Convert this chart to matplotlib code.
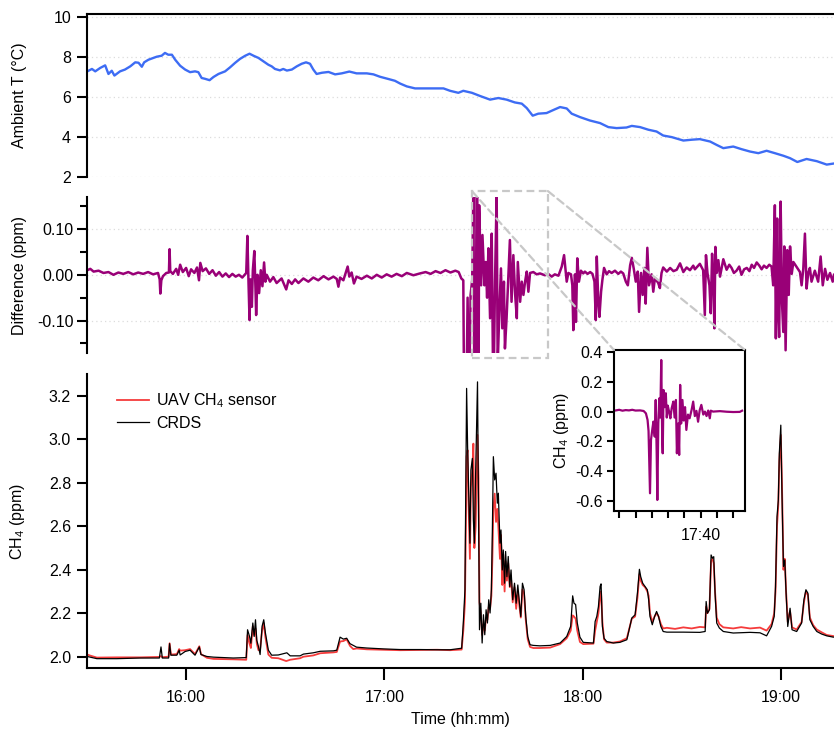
# ================================================    Modules import     =====================================================

import matplotlib
matplotlib.use("Agg")
import matplotlib.pyplot as plt
from matplotlib.patches import Rectangle, ConnectionPatch
from matplotlib.ticker import FuncFormatter, FormatStrFormatter, FixedLocator

# ================================================          Data          ================================================
# time is in minutes after 15:00

# Ambient temperature (deg C)
temp_t = [30.1, 31.5, 32.5, 34.0, 35.5, 36.5, 37.5, 38.3, 40.0, 41.5, 43.1, 44.6, 45.6, 46.6, 47.3, 48.6,
          50.1, 51.1, 52.6, 53.6, 54.6, 55.7, 56.7, 58.2, 59.7, 61.2, 62.7, 63.7, 64.7, 65.7, 67.1, 68.3,
          69.8, 71.8, 73.3, 74.8, 76.3, 77.9, 79.2, 80.4, 81.9, 83.4, 84.9, 85.9, 86.9, 88.4, 89.4, 90.5,
          92.0, 93.5, 95.0, 96.3, 97.5, 98.5, 99.5, 101.1, 103.1, 105.1, 107.1, 109.4, 111.6, 114.7, 116.7,
          118.7, 121.2, 123.2, 124.8, 126.8, 129.3, 132.8, 135.4, 137.9, 139.9, 142.4, 143.9, 146.5, 149.0,
          152.0, 154.5, 157.0, 159.5, 161.6, 163.1, 164.9, 166.6, 169.1, 171.4, 173.2, 175.2, 176.7, 179.2,
          182.2, 185.3, 187.8, 190.3, 193.3, 194.9, 197.4, 199.9, 202.4, 204.4, 207.0, 210.5, 213.0, 215.5,
          218.6, 220.6, 222.6, 225.6, 228.1, 230.7, 233.2, 235.7, 238.2, 240.8, 242.8, 245.0, 247.8, 250.9,
          253.9, 255.9]
temp_v = [7.27, 7.39, 7.27, 7.44, 7.57, 7.14, 7.30, 7.06, 7.27, 7.36, 7.52, 7.72, 7.70, 7.50, 7.72, 7.85,
          7.94, 8.00, 8.05, 8.19, 8.10, 8.10, 7.85, 7.55, 7.36, 7.23, 7.27, 7.23, 6.94, 6.90, 6.83, 6.99,
          7.14, 7.27, 7.47, 7.69, 7.89, 8.05, 8.15, 8.05, 7.94, 7.77, 7.60, 7.52, 7.39, 7.32, 7.39, 7.31,
          7.36, 7.52, 7.65, 7.72, 7.65, 7.36, 7.14, 7.20, 7.24, 7.12, 7.17, 7.26, 7.17, 7.17, 7.12,
          7.00, 6.89, 6.80, 6.66, 6.52, 6.42, 6.42, 6.42, 6.42, 6.30, 6.20, 6.30, 6.20, 6.04,
          5.86, 5.94, 5.86, 5.72, 5.66, 5.44, 5.06, 5.16, 5.19, 5.36, 5.49, 5.42, 5.16, 4.99,
          4.82, 4.69, 4.49, 4.44, 4.47, 4.55, 4.49, 4.36, 4.27, 4.07, 3.99, 3.82, 3.86, 3.89,
          3.77, 3.60, 3.44, 3.52, 3.39, 3.27, 3.19, 3.31, 3.19, 3.06, 2.94, 2.75, 2.90, 2.79,
          2.62, 2.67]

# Difference UAV - CRDS (ppm)
diff_t = [30.1, 31.0, 32.0, 33.5, 35.0, 36.5, 38.0, 39.5, 41.0, 42.5, 44.0, 45.5, 47.0, 48.5, 50.0, 51.5,
          52.0, 52.2, 52.5, 53.0, 54.0, 54.8, 55.0, 55.2, 56.0, 57.0, 57.6, 58.2, 59.0, 60.0, 60.8, 61.5,
          62.5, 63.3, 63.9, 64.3, 65.0, 66.0, 67.0, 68.0, 69.0, 70.0, 71.0, 72.0, 73.0, 74.0, 75.0, 76.0,
          77.0, 78.2, 78.55, 78.9, 79.2, 79.5, 79.9, 80.2, 80.65, 81.0, 81.2, 81.6, 82.1, 82.6, 83.1, 83.6,
          84.0, 84.4, 85.4, 86.4, 87.4, 88.9, 90.3, 91.0, 92.0, 93.0, 94.0, 95.5, 97.0, 98.5, 100.0, 101.6,
          103.1, 104.6, 105.6, 106.1, 106.6, 107.6, 108.9, 109.4, 110.1, 110.8, 111.6, 113.1, 114.7, 116.2,
          117.7, 119.2, 120.7, 122.2, 123.7, 125.3, 126.8, 128.8, 130.8, 132.5, 134.0, 135.5, 137.0, 138.5,
          140.0, 141.5, 142.5, 143.3, 143.9, 144.4, 145.2, 145.6, 146.1, 146.6, 146.95, 147.45, 148.0, 148.5,
          148.7, 149.3, 149.7, 150.3, 150.7, 151.1, 151.5, 152.0, 152.5, 153.0, 153.5, 154.0, 154.3, 154.8,
          155.3, 155.7, 156.2, 156.5, 157.0, 157.5, 158.0, 158.5, 159.05, 159.6, 160.1, 160.4, 161.1, 161.6,
          162.1, 162.6, 163.1, 163.6, 164.1, 165.1, 166.1, 167.1, 168.6, 169.6, 170.65, 171.6, 172.7, 173.7,
          174.4, 175.2, 175.7, 176.5, 176.9, 177.2, 177.7, 178.0, 178.4, 178.9, 179.5, 180.2, 180.7, 181.5,
          182.3, 183.0, 183.6, 184.0, 184.3, 184.8, 185.1, 185.6, 186.0, 186.5, 187.3, 188.0, 188.8, 189.8,
          190.8, 191.6, 192.3, 193.1, 193.7, 194.4, 194.9, 195.5, 196.1, 196.7, 197.1, 197.7, 198.2, 198.7,
          199.1, 199.6, 200.1, 200.9, 201.4, 201.9, 202.9, 203.4, 203.9, 204.4, 205.5, 206.5, 207.5, 208.5,
          209.5, 210.5, 211.5, 212.5, 213.5, 214.0, 215.5, 216.5, 217.0, 217.35, 217.8, 218.4, 218.8, 219.2,
          219.6, 219.9, 220.2, 220.6, 221.1, 221.6, 222.6, 223.6, 224.4, 225.1, 225.8, 226.6, 227.4, 228.1,
          228.9, 229.7, 230.5, 231.2, 231.9, 232.7, 233.5, 234.2, 234.9, 235.7, 236.5, 237.2, 237.7, 238.2,
          238.5, 238.9, 239.2, 239.5, 239.95, 240.35, 240.75, 241.05, 241.45, 241.96, 242.4, 242.8, 243.3, 243.8,
          244.8, 245.8, 246.3, 246.8, 247.3, 247.8, 248.3, 248.8, 249.3, 250.3, 251.3, 252.05, 252.7, 253.4,
          254.1, 254.9, 255.7, 256.1]
diff_v = [0.010, 0.013, 0.007, 0.009, 0.004, 0.006, 0.000, 0.005, 0.002, 0.006, 0.001, 0.005, 0.002, 0.006, 0.001, 0.004,
          -0.010, -0.041, -0.012, -0.003, 0.004, 0.005, 0.056, 0.008, 0.002, 0.013, 0.000, 0.022, 0.006, 0.015, -0.003, 0.012,
          0.004, 0.016, -0.012, 0.026, 0.008, 0.014, 0.002, 0.010, -0.002, 0.006, -0.004, 0.003, -0.005, 0.002, -0.004, 0.000,
          -0.006, 0.004, 0.085, -0.020, -0.099, -0.010, -0.070, 0.010, 0.052, -0.030, -0.088, 0.000, -0.040, 0.010, -0.025, 0.027,
          -0.015, 0.000, -0.015, -0.005, -0.018, -0.008, -0.032, -0.012, -0.020, -0.010, -0.018, -0.008, -0.015, -0.006, -0.012, -0.003,
          -0.010, -0.004, -0.009, -0.026, -0.006, -0.012, 0.018, -0.004, 0.005, -0.019, -0.004, -0.009, -0.002, -0.008,
          0.000, -0.006, 0.001, -0.004, 0.002, -0.003, 0.004, -0.001, 0.003, 0.006, 0.002, 0.008, 0.004, 0.010,
          0.005, 0.009, 0.006, -0.008, -0.012, -0.550, -0.050, -0.300, -0.044, -0.011, 0.200, -0.590, 0.350, -0.280,
          0.152, -0.023, 0.087, -0.023, 0.028, -0.050, 0.058, -0.095, 0.090, -0.290, -0.015, 0.180, -0.200, -0.081,
          0.014, -0.117, -0.015, -0.161, -0.095, -0.011, 0.076, -0.059, 0.043, -0.044, -0.095, 0.028, -0.059, -0.015,
          -0.044, -0.015, 0.007, -0.037, 0.004, 0.006, 0.001, 0.003, -0.001, 0.002, -0.004, 0.001, -0.002, 0.018,
          0.043, -0.015, 0.004, 0.001, -0.023, -0.121, 0.001, -0.103, 0.036, -0.015, 0.009, 0.003, 0.007, 0.002,
          0.006, 0.002, -0.015, -0.099, 0.040, -0.066, -0.092, -0.037, -0.011, 0.015, 0.001, 0.008, 0.004, 0.009,
          0.002, 0.007, 0.003, -0.015, -0.023, 0.021, 0.037, 0.013, -0.015, 0.007, -0.081, 0.004, -0.044, 0.015,
          -0.063, 0.059, -0.023, 0.001, -0.037, -0.007, -0.018, -0.029, 0.004, 0.016, 0.007, 0.015, 0.008, 0.011,
          0.025, 0.006, 0.016, 0.010, 0.020, 0.012, 0.024, 0.010, -0.088, 0.043, 0.004, -0.023, -0.084, 0.046,
          -0.015, -0.117, 0.061, 0.004, 0.032, -0.004, 0.034, 0.011, 0.022, 0.015, 0.004, 0.009, 0.018, 0.000,
          0.012, 0.015, 0.008, 0.022, 0.015, 0.027, 0.020, 0.012, 0.020, 0.015, 0.022, 0.018, -0.023, 0.152,
          -0.139, 0.123, -0.080, -0.136, 0.160, -0.059, -0.125, 0.062, -0.165, 0.054, -0.044, 0.062, 0.002, 0.028,
          0.017, 0.006, -0.023, 0.013, 0.090, -0.030, 0.004, 0.015, -0.015, 0.009, -0.015, 0.040, -0.023, 0.013,
          -0.011, 0.004, -0.015, 0.000]

# CRDS CH4 (ppm)
crds_t = [30.1, 33.0, 39.0, 46.1, 51.9, 52.4, 52.8, 54.7, 55.0, 55.4, 57.2, 57.9, 58.2, 59.7, 61.2, 62.7,
          64.0, 64.5, 66.3, 68.3, 74.3, 78.2, 78.6, 79.2, 79.6, 80.2, 80.6, 81.0, 81.4, 81.9, 82.4, 83.0,
          83.5, 84.0, 84.9, 85.9, 87.9, 90.5, 91.5, 94.5, 95.5, 98.5, 100.6, 104.6, 105.6, 106.6, 107.6, 108.6,
          109.6, 110.6, 111.6, 114.7, 119.7, 124.8, 130.8, 136.0, 139.9, 143.4, 143.9, 144.4, 144.7, 144.9,
          145.2, 145.5, 145.9, 146.2, 146.65, 146.95, 147.25, 147.65, 148.2, 148.5, 148.8, 149.2, 149.6, 150.0,
          150.4, 150.8, 151.2, 151.6, 152.0, 152.4, 152.7, 153.0, 153.4, 153.8, 154.2, 154.5, 155.0, 155.3,
          155.7, 156.0, 156.4, 156.7, 157.1, 157.5, 157.95, 158.35, 158.85, 159.4, 159.9, 160.4, 160.9, 161.3,
          161.8, 162.3, 162.8, 163.4, 164.1, 165.1, 167.1, 170.2, 173.2, 175.2, 176.4, 177.0, 177.4, 177.9,
          178.4, 179.2, 180.2, 183.3, 183.8, 184.3, 184.8, 185.3, 185.6, 186.0, 186.5, 187.3, 189.3, 191.3,
          193.4, 194.9, 195.9, 196.6, 197.2, 197.6, 198.2, 198.9, 199.6, 200.0, 200.4, 201.1, 201.8, 202.4,
          203.0, 203.7, 204.4, 205.5, 210.5, 215.5, 217.1, 217.4, 217.8, 218.4, 218.9, 219.3, 219.7, 220.1,
          220.6, 221.4, 222.6, 225.6, 230.7, 233.7, 235.7, 237.2, 238.0, 238.4, 238.85, 239.25, 239.55, 240.0,
          240.35, 240.8, 241.2, 241.6, 242.1, 242.8, 243.4, 244.8, 246.3, 247.0, 247.6, 248.2, 248.8, 249.8,
          250.9, 252.4, 253.9, 255.9]
crds_v = [2.001, 1.991, 1.991, 1.994, 1.994, 2.045, 1.994, 1.994, 2.060, 2.007, 2.007, 2.030, 2.008, 2.024, 2.030, 2.007,
          2.045, 2.010, 2.001, 1.998, 1.994, 1.996, 2.124, 2.093, 2.062, 2.155, 2.093, 2.170, 2.075, 2.047, 2.010, 2.140,
          2.170, 2.110, 2.030, 2.007, 2.008, 2.018, 2.004, 2.004, 2.012, 2.018, 2.025, 2.027, 2.030, 2.090, 2.081, 2.085,
          2.060, 2.052, 2.044, 2.040, 2.036, 2.033, 2.033, 2.032, 2.032, 2.039, 2.155, 2.308, 2.859, 3.234,
          2.966, 2.782, 2.522, 2.859, 2.912, 2.629, 2.522, 2.859, 3.264, 2.706, 2.124, 2.246, 2.063, 2.193,
          2.101, 2.216, 2.155, 2.262, 2.201, 2.308, 2.583, 2.920, 2.813, 2.844, 2.706, 2.752, 2.522, 2.583,
          2.399, 2.491, 2.338, 2.484, 2.368, 2.461, 2.323, 2.399, 2.262, 2.338, 2.246, 2.330, 2.246, 2.185,
          2.338, 2.308, 2.185, 2.093, 2.055, 2.052, 2.050, 2.052, 2.063, 2.093, 2.140, 2.280, 2.246, 2.240,
          2.155, 2.090, 2.066, 2.063, 2.162, 2.185, 2.231, 2.323, 2.335, 2.139, 2.085, 2.070, 2.063, 2.066,
          2.078, 2.178, 2.193, 2.292, 2.402, 2.368, 2.338, 2.323, 2.308, 2.262, 2.185, 2.147, 2.185, 2.208,
          2.185, 2.139, 2.116, 2.113, 2.113, 2.112, 2.116, 2.254, 2.200, 2.216, 2.468, 2.453, 2.460, 2.292,
          2.155, 2.132, 2.116, 2.109, 2.112, 2.110, 2.096, 2.139, 2.185, 2.323, 2.644, 2.721, 2.935, 3.065,
          2.752, 2.415, 2.445, 2.292, 2.139, 2.223, 2.124, 2.116, 2.155, 2.262, 2.308, 2.292, 2.170, 2.139,
          2.116, 2.104, 2.096, 2.090]

# UAV CH4 sensor (ppm)
uav_t = [30.1, 31.0, 33.0, 39.0, 46.1, 51.9, 52.4, 52.8, 54.7, 55.0, 55.4, 57.2, 57.9, 58.2, 59.7, 61.2,
         62.7, 64.0, 64.5, 66.3, 68.3, 74.3, 78.2, 78.6, 79.2, 79.6, 80.2, 80.6, 81.0, 81.4, 81.9, 82.4,
         83.0, 83.5, 84.0, 84.9, 85.9, 87.9, 90.3, 91.5, 94.5, 95.5, 98.5, 100.6, 104.6, 105.6, 106.6, 107.6,
         108.6, 109.6, 110.6, 111.6, 114.7, 119.7, 124.8, 130.8, 136.0, 139.9, 143.4, 143.9, 144.4, 144.7,
         144.9, 145.2, 145.5, 145.9, 146.2, 146.65, 146.95, 147.25, 147.65, 148.2, 148.5, 148.8, 149.2, 149.6,
         150.0, 150.4, 150.8, 151.2, 151.6, 152.0, 152.4, 152.7, 153.0, 153.4, 153.8, 154.2, 154.5, 155.0,
         155.3, 155.7, 156.0, 156.4, 156.7, 157.1, 157.5, 157.95, 158.35, 158.85, 159.4, 159.9, 160.4, 160.9,
         161.3, 161.8, 162.3, 162.8, 163.4, 164.1, 165.1, 167.1, 170.2, 173.2, 175.2, 176.4, 177.0, 177.4,
         177.9, 178.4, 179.2, 180.2, 183.3, 183.8, 184.3, 184.8, 185.3, 185.6, 186.0, 186.5, 187.3, 189.3,
         191.3, 193.4, 194.9, 195.9, 196.6, 197.2, 197.6, 198.2, 198.9, 199.6, 200.0, 200.4, 201.1, 201.8,
         202.4, 203.0, 203.7, 204.4, 205.5, 208.0, 210.5, 213.0, 215.5, 217.1, 217.4, 217.8, 218.4, 218.9,
         219.3, 219.7, 220.1, 220.6, 221.4, 222.6, 225.6, 228.0, 230.7, 233.7, 235.7, 237.2, 238.0, 238.4,
         238.85, 239.25, 239.55, 240.0, 240.35, 240.8, 241.2, 241.6, 242.1, 242.8, 243.4, 244.8, 246.3, 247.0,
         247.6, 248.2, 248.8, 249.8, 250.9, 252.4, 253.9, 255.9]
uav_v = [2.010, 2.005, 1.996, 1.997, 1.997, 1.999, 2.003, 1.998, 2.000, 2.062, 2.010, 2.012, 2.035, 2.028, 2.030, 2.035,
         2.012, 2.048, 2.012, 1.995, 1.990, 1.988, 1.986, 2.100, 2.060, 2.040, 2.140, 2.100, 2.130, 2.060, 2.030, 2.035,
         2.120, 2.155, 2.090, 2.010, 1.995, 1.993, 1.980, 1.986, 1.993, 2.000, 2.006, 2.016, 2.020, 2.022, 2.070, 2.072,
         2.080, 2.050, 2.035, 2.038, 2.034, 2.032, 2.030, 2.031, 2.032, 2.030, 2.033, 2.120, 2.250, 2.620,
         2.920, 2.950, 2.700, 2.450, 2.780, 2.860, 2.980, 2.500, 2.600, 3.020, 2.820, 2.250, 2.200, 2.100,
         2.150, 2.120, 2.180, 2.170, 2.230, 2.220, 2.280, 2.450, 2.680, 2.750, 2.620, 2.680, 2.600, 2.450,
         2.560, 2.330, 2.470, 2.300, 2.440, 2.350, 2.430, 2.320, 2.360, 2.250, 2.320, 2.220, 2.300, 2.230,
         2.180, 2.310, 2.290, 2.170, 2.080, 2.045, 2.040, 2.040, 2.042, 2.058, 2.085, 2.120, 2.190, 2.185,
         2.175, 2.120, 2.068, 2.058, 2.060, 2.120, 2.160, 2.200, 2.280, 2.300, 2.160, 2.080, 2.065, 2.065,
         2.070, 2.085, 2.175, 2.185, 2.270, 2.380, 2.350, 2.330, 2.320, 2.300, 2.280, 2.200, 2.160, 2.185,
         2.200, 2.185, 2.150, 2.130, 2.133, 2.128, 2.135, 2.130, 2.137, 2.135, 2.230, 2.200, 2.220, 2.440,
         2.450, 2.430, 2.300, 2.180, 2.150, 2.135, 2.130, 2.136, 2.130, 2.134, 2.120, 2.150, 2.200, 2.300,
         2.600, 2.700, 2.900, 3.020, 2.800, 2.400, 2.450, 2.300, 2.160, 2.210, 2.135, 2.125, 2.160, 2.250,
         2.300, 2.285, 2.180, 2.145, 2.125, 2.112, 2.100, 2.095]

# Inset: difference around the 17:30 plume (ppm)
inset_t = [134.0, 135.0, 136.0, 137.0, 138.0, 139.0, 140.0, 141.4, 142.5, 143.2, 143.7, 144.0, 144.45, 144.75,
           145.2, 145.5, 145.9, 146.2, 146.5, 146.7, 147.0, 147.3, 147.6, 147.9, 148.2, 148.35, 148.6, 148.95,
           149.3, 149.6, 149.9, 150.3, 150.7, 151.1, 151.6, 152.0, 152.4, 152.7, 153.1, 153.4, 153.7, 154.0,
           154.4, 154.8, 155.2, 155.6, 156.1, 156.6, 157.2, 157.7, 158.2, 158.7, 159.2, 159.7, 160.2, 160.8,
           161.3, 161.8, 162.3, 162.8, 163.1, 163.8, 165.9, 168.0, 170.0, 172.0, 172.7]
inset_v = [0.008, 0.012, 0.006, 0.010, 0.008, 0.012, 0.007, 0.008, 0.004, -0.012, -0.056, -0.130, -0.548, -0.190,
           -0.112, -0.067, -0.168, 0.078, -0.280, -0.593, -0.078, 0.089, -0.040, 0.346, -0.190, -0.280, 0.145, 0.030,
           0.123, -0.040, 0.040, 0.000, -0.045, 0.023, 0.067, -0.040, 0.078, -0.280, -0.080, -0.291, 0.179, -0.080,
           0.078, -0.060, 0.030, -0.123, -0.020, -0.045, 0.010, 0.067, -0.030, 0.005, -0.068, 0.010, 0.045, -0.020,
           0.000, -0.030, 0.007, -0.045, 0.006, 0.000, 0.003, -0.001, -0.003, -0.002, 0.006]

# zoom box drawn on the difference panel (minutes, ppm)
box_t = [146.5, 169.5]
box_v = [-0.182, 0.183]

# ================================================          Style          ================================================

plt.rcParams['font.family'] = ['Liberation Sans', 'DejaVu Sans']
plt.rcParams['mathtext.fontset'] = 'custom'
plt.rcParams['mathtext.rm'] = 'Liberation Sans'
plt.rcParams['mathtext.it'] = 'Liberation Sans:italic'
plt.rcParams['axes.unicode_minus'] = False
plt.rcParams['font.size'] = 11

c_temp = '#3d6cf4'
c_diff = '#990077'
c_uav = '#f53b3b'
c_crds = 'black'
c_grey = '#c8c8c8'
c_grid = '#dcdcdc'

XMIN, XMAX = 30, 256.1
LABEL_X = -0.08


def hhmm(v, pos=None):
    v = int(round(v))
    return "%d:%02d" % (15 + v // 60, v % 60)


def style_axis(ax, spines):
    for s in ['left', 'right', 'top', 'bottom']:
        ax.spines[s].set_visible(s in spines)
        ax.spines[s].set_linewidth(1.5)
    ax.tick_params(axis='both', which='major', direction='out', width=1.5, length=7.5, labelsize=11.5)
    ax.tick_params(axis='y', which='major', pad=4)
    ax.tick_params(axis='both', which='minor', direction='out', width=1.5, length=5)


# ================================================          Figure          ================================================

fig = plt.figure(figsize=(8.34, 7.30), dpi=100)
ax_t = fig.add_axes([0.1043, 0.7575, 0.8957, 0.2233])
ax_d = fig.add_axes([0.1043, 0.5164, 0.8957, 0.2137])
ax_c = fig.add_axes([0.1043, 0.0849, 0.8957, 0.4027])
ax_in = fig.add_axes([0.7362, 0.3000, 0.1571, 0.2205])

# ----- Ambient temperature
ax_t.plot(temp_t, temp_v, color=c_temp, lw=1.7)
style_axis(ax_t, ['left', 'top'])
ax_t.set_xlim(XMIN, XMAX)
ax_t.set_ylim(2, 10.13)
ax_t.set_yticks([2, 4, 6, 8, 10])
ax_t.tick_params(axis='x', bottom=False, labelbottom=False)
ax_t.grid(axis='y', color=c_grid, ls=(0, (1, 2.5)), lw=0.9)
ax_t.set_axisbelow(True)
ax_t.set_ylabel("Ambient T (°C)", fontsize=11.5)
ax_t.yaxis.set_label_coords(LABEL_X, 0.5)

# ----- Difference
ax_d.plot(diff_t, diff_v, color=c_diff, lw=1.8)
style_axis(ax_d, ['left'])
ax_d.set_xlim(XMIN, XMAX)
ax_d.set_ylim(-0.171, 0.170)
ax_d.yaxis.set_major_locator(FixedLocator([-0.1, 0.0, 0.1]))
ax_d.yaxis.set_minor_locator(FixedLocator([-0.15, -0.05, 0.05, 0.15]))
ax_d.yaxis.set_major_formatter(FormatStrFormatter('%.2f'))
ax_d.tick_params(axis='y', which='major', pad=2)
ax_d.tick_params(axis='x', which='both', bottom=False, labelbottom=False)
ax_d.grid(axis='y', which='major', color=c_grid, ls=(0, (1, 2.5)), lw=0.9)
ax_d.set_axisbelow(True)
ax_d.set_ylabel("Difference (ppm)", fontsize=11.5)
ax_d.yaxis.set_label_coords(LABEL_X, 0.5)

# zoom box + pointer lines to the inset
ax_d.add_patch(Rectangle((box_t[0], box_v[0]), box_t[1] - box_t[0], box_v[1] - box_v[0],
                         fill=False, ec=c_grey, lw=1.6, ls=(0, (3.5, 2)), clip_on=False, zorder=5))
for bx, ix in [(box_t[0], 0), (box_t[1], 1)]:
    con = ConnectionPatch(xyA=(bx, box_v[1]), coordsA=ax_d.transData,
                          xyB=(ix, 1), coordsB=ax_in.transAxes,
                          color=c_grey, lw=1.6, ls=(0, (3.5, 2)), zorder=5)
    fig.add_artist(con)

# ----- CH4
ax_c.plot(uav_t, uav_v, color=c_uav, lw=1.3, label="UAV CH$_4$ sensor")
ax_c.plot(crds_t, crds_v, color=c_crds, lw=0.9, label="CRDS")
style_axis(ax_c, ['left', 'bottom'])
ax_c.set_xlim(XMIN, XMAX)
ax_c.set_ylim(1.948, 3.30)
ax_c.set_yticks([2.0, 2.2, 2.4, 2.6, 2.8, 3.0, 3.2])
ax_c.yaxis.set_major_formatter(FormatStrFormatter('%.1f'))
ax_c.set_xticks([60, 120, 180, 240])
ax_c.xaxis.set_major_formatter(FuncFormatter(hhmm))
ax_c.tick_params(axis='x', which='major', length=8.5, pad=7.5)
ax_c.set_ylabel("CH$_4$ (ppm)", fontsize=11.5)
ax_c.yaxis.set_label_coords(LABEL_X, 0.5)
ax_c.set_xlabel("Time (hh:mm)", fontsize=11.5, labelpad=5)
leg = ax_c.legend(loc='upper left', bbox_to_anchor=(0.032, 0.962), frameon=False, fontsize=11.5,
                  handlelength=2.0, handletextpad=0.45, labelspacing=0.35, borderaxespad=0)

# ----- Inset
ax_in.plot(inset_t, inset_v, color=c_diff, lw=1.6)
style_axis(ax_in, ['left', 'right', 'top', 'bottom'])
ax_in.set_xlim(133.4, 173.6)
ax_in.set_ylim(-0.667, 0.413)
ax_in.set_yticks([-0.6, -0.4, -0.2, 0.0, 0.2, 0.4])
ax_in.yaxis.set_major_formatter(FormatStrFormatter('%.1f'))
ax_in.set_xticks([135, 140, 145, 150, 155, 160, 165, 170])
ax_in.set_xticklabels(["", "", "", "", "", "17:40", "", ""])
ax_in.tick_params(axis='both', which='major', length=5, pad=3)
ax_in.tick_params(axis='x', which='major', pad=7)
ax_in.set_ylabel("CH$_4$ (ppm)", fontsize=11.5)
ax_in.yaxis.set_label_coords(-0.33, 0.5)

fig.savefig("out.png", dpi=100)
plt.close(fig)
